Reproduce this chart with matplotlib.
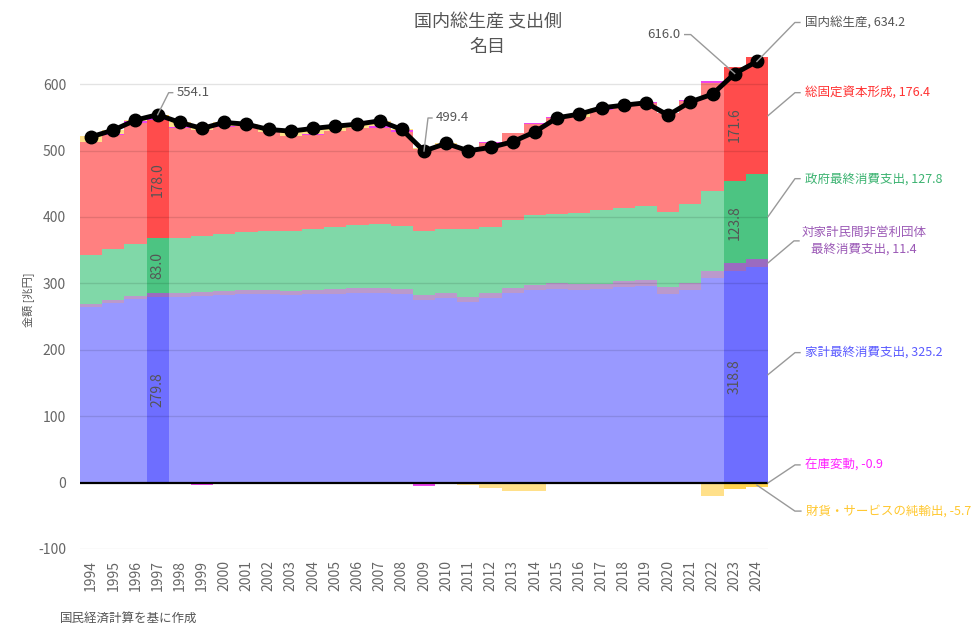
import matplotlib.pyplot as plt
from matplotlib.lines import Line2D
from matplotlib.transforms import IdentityTransform

plt.rcParams['font.family'] = ['Noto Sans CJK JP', 'DejaVu Sans']
plt.rcParams['axes.unicode_minus'] = False

# 兆円, calendar years
years = list(range(1994, 2025))
gdp = [520.8, 530.8, 545.9, 554.1, 542.4, 533.4, 542.4, 539.8, 531.8, 529.3,
       533.4, 536.8, 539.8, 544.8, 531.8, 499.4, 510.8, 499.7, 504.8, 513.3,
       528.3, 549.4, 555.0, 564.4, 568.4, 572.0, 553.4, 573.4, 585.0, 616.0, 634.2]
household = [264.2, 270.0, 276.7, 279.8, 280.2, 281.0, 282.7, 284.2, 284.2, 283.0,
             283.8, 284.6, 285.9, 285.7, 284.5, 275.3, 278.7, 272.5, 278.4, 285.7,
             289.5, 291.6, 290.4, 291.0, 294.0, 295.7, 284.4, 290.0, 307.5, 318.8, 325.2]
nonprofit = [4.5, 4.8, 5.0, 5.2, 5.4, 5.6, 5.8, 6.0, 6.2, 6.3,
             6.4, 6.6, 6.8, 7.0, 7.2, 7.4, 7.5, 7.7, 7.8, 8.0,
             8.2, 8.4, 8.6, 8.8, 9.0, 9.3, 9.6, 10.0, 10.5, 11.2, 11.4]
government = [74.2, 76.6, 77.7, 83.0, 83.3, 84.8, 85.9, 87.8, 88.6, 89.7,
              91.3, 93.3, 95.3, 96.8, 95.0, 96.3, 95.8, 101.3, 99.3, 101.8,
              105.3, 104.5, 106.5, 110.7, 111.0, 112.0, 113.0, 119.5, 121.5, 123.8, 127.8]
fixed_capital = [170.4, 171.4, 182.0, 178.0, 165.0, 159.5, 161.5, 159.3, 149.3, 142.8,
                 141.9, 144.8, 145.3, 144.8, 141.1, 123.9, 123.8, 121.5, 126.1, 130.8,
                 137.8, 144.9, 145.0, 149.9, 153.4, 154.0, 148.9, 155.9, 163.0, 171.6, 176.4]
inventory = [-0.5, 2.0, 3.0, 3.5, 1.0, -4.0, 1.0, 0.5, -2.0, 0.5,
             1.0, 0.5, 0.5, 2.0, 3.0, -5.0, -0.5, -0.8, 1.2, -1.0,
             0.5, 1.5, 0.5, 1.5, 1.5, 1.5, -1.0, 0.5, 3.0, -1.0, -0.9]
net_exports = [8.0, 6.0, 1.5, 4.6, 7.5, 6.5, 5.5, 2.0, 5.5, 7.0,
               9.0, 7.0, 6.0, 8.5, 1.0, 1.5, 5.5, -2.5, -8.0, -12.0,
               -13.0, -1.5, 4.0, 2.5, -0.5, -0.5, -1.5, -2.5, -20.5, -8.4, -5.7]
highlight_years = [1997, 2023, 2024]

series = [
    ('家計最終消費支出', household, '#9999ff', '#6e6eff', '#5a5aff'),
    ('対家計民間非営利団体\n最終消費支出', nonprofit, '#bb99cc', '#9b6bc0', '#9b59b6'),
    ('政府最終消費支出', government, '#80d8a8', '#4cc482', '#3cb371'),
    ('総固定資本形成', fixed_capital, '#ff8080', '#ff4c4c', '#ff3333'),
    ('在庫変動', inventory, '#ee44ee', '#dd22dd', '#ff22ff'),
    ('財貨・サービスの純輸出', net_exports, '#ffe08a', '#ffd24d', '#ffc830'),
]

fig = plt.figure(figsize=(9.75, 6.36), dpi=100)
ax = fig.add_axes([80 / 975, 1 - 549 / 636, (768 - 80) / 975, (549 - 51) / 636])

pos_bottom = [0.0] * len(years)
neg_bottom = [0.0] * len(years)
segments = {}
for name, vals, c_light, c_dark, _ in series:
    bottoms = []
    for i, v in enumerate(vals):
        if v >= 0:
            bottoms.append(pos_bottom[i])
            pos_bottom[i] += v
        else:
            bottoms.append(neg_bottom[i])
            neg_bottom[i] += v
    colors = [c_dark if y in highlight_years else c_light for y in years]
    ax.bar(years, vals, bottom=bottoms, width=1.0, color=colors, linewidth=0, zorder=2)
    segments[name] = bottoms

# values written inside the highlighted bars
for name, vals, *_ in series[:4]:
    if name.startswith('対家計'):
        continue
    for yr in [1997, 2023]:
        i = years.index(yr)
        ax.text(yr, segments[name][i] + vals[i] / 2, f'{vals[i]:.1f}', rotation=90,
                ha='center', va='center', fontsize=10, color='#555555', zorder=5)

for yv in range(-100, 700, 100):
    if yv == 0:
        continue
    ax.axhline(yv, color='black', alpha=0.11, lw=1, zorder=2.5)
ax.axhline(0, color='black', lw=1.6, zorder=3)

ax.plot(years, gdp, color='black', lw=3.5, marker='o', markersize=9, zorder=6)

ax.set_xlim(1993.5, 2024.5)
ax.set_ylim(-100, 650)
ax.set_yticks(range(-100, 700, 100))
ax.set_xticks(years)
ax.set_xticklabels([str(y) for y in years], rotation=90)
ax.tick_params(length=0, colors='#666666', labelsize=10)
ax.tick_params(axis='x', pad=8)
ax.tick_params(axis='y', pad=10)
for s in ax.spines.values():
    s.set_visible(False)
ax.set_ylabel('金額 [兆円]', fontsize=8, color='#555555', labelpad=3)

fig.text(0.5, 1 - 23 / 636, '国内総生産 支出側', ha='center', va='center', fontsize=13, color='#555555')
fig.text(0.5, 1 - 47 / 636, '名目', ha='center', va='center', fontsize=13, color='#555555')
fig.text(60 / 975, 1 - 618 / 636, '国民経済計算を基に作成', ha='left', va='center', fontsize=9, color='#555555')


def leader(xd, yd, offsets, text, color, ha='left', gap=5, size=9):
    x0, y0 = ax.transData.transform((xd, yd))
    xs, ys = [x0], [y0]
    for dx, dy in offsets:
        xs.append(x0 + dx)
        ys.append(y0 + dy)
    fig.add_artist(Line2D(xs, ys, transform=IdentityTransform(), color='#999999', lw=1))
    tx = xs[-1] + gap if ha == 'left' else xs[-1] - gap
    fig.text(tx, ys[-1], text, transform=IdentityTransform(), ha=ha, va='center',
             color=color, fontsize=size)


i97 = years.index(1997)
i09 = years.index(2009)
leader(1997, gdp[i97], [(11, 22), (15, 22)], f'{gdp[i97]:.1f}', '#555555', gap=4, size=9.5)
leader(2009, gdp[i09], [(4, 33), (8, 33)], f'{gdp[i09]:.1f}', '#555555', gap=4, size=9.5)
leader(2023, gdp[-2], [(-44, 39), (-50, 39)], f'{gdp[-2]:.1f}', '#555555', ha='right', gap=4, size=9.5)
leader(2024, gdp[-1], [(38, 39), (43, 39)], f'国内総生産, {gdp[-1]:.1f}', '#555555')

last = len(years) - 1
right_labels = [
    (3, (27, 23)),
    (2, (27, 38)),
    (1, (26, 22)),
    (0, (27, 22)),
]
for idx, (ox, oy) in right_labels:
    name, vals, _, _, tc = series[idx]
    mid = segments[name][last] + vals[last] / 2
    label = f'{name}, {vals[last]:.1f}'
    if idx == 1:
        x0, y0 = ax.transData.transform((2024.5, mid))
        fig.add_artist(Line2D([x0, x0 + ox, x0 + ox + 5], [y0, y0 + oy, y0 + oy],
                              transform=IdentityTransform(), color='#999999', lw=1))
        fig.text(x0 + ox + 70, y0 + oy, label, transform=IdentityTransform(), ha='center',
                 va='center', color=tc, fontsize=9, multialignment='center', linespacing=1.4)
    else:
        leader(2024.5, mid, [(ox, oy), (ox + 5, oy)], label, tc)

name, vals, _, _, tc = series[4]
leader(2024.5, segments[name][last] + vals[last] / 2, [(27, 18), (32, 18)],
       f'{name}, {vals[last]:.1f}', tc)
name, vals, _, _, tc = series[5]
leader(2024, segments[name][last] + vals[last] / 2, [(38, -26), (44, -26)],
       f'{name}, {vals[last]:.1f}', tc)

fig.savefig('out.png', dpi=100)
